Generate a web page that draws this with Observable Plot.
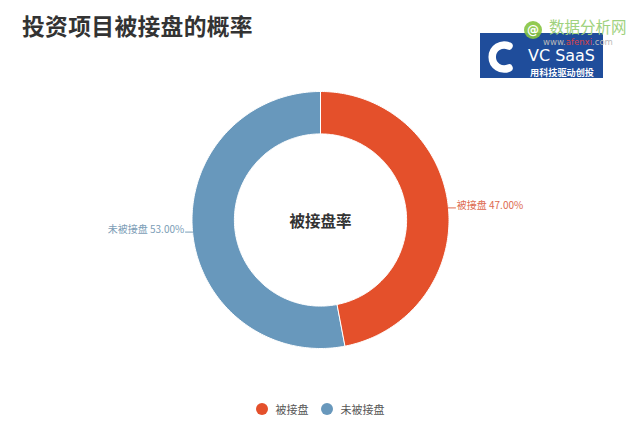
<!DOCTYPE html>
<html>
<head>
<meta charset="utf-8">
<script src="https://cdn.jsdelivr.net/npm/d3@7"></script>
<script src="https://cdn.jsdelivr.net/npm/@observablehq/plot@0.6"></script>
<style>
  html, body { margin: 0; padding: 0; background: #fff; }
  body { font-family: "Noto Sans CJK SC", "Noto Sans", sans-serif; }
  #wrap { position: relative; width: 640px; height: 430px; overflow: hidden; background: #fff; }
  #title { position: absolute; left: 22px; top: 9px; font-size: 22.8px; font-weight: bold; color: #333; letter-spacing: 0.3px; }
  #logo { position: absolute; left: 0; top: 0; }
  #chart { position: absolute; left: 0; top: 0; }
  #legend { position: absolute; top: 401px; left: 0; width: 640px; display: flex; justify-content: center; align-items: center; font-size: 11px; color: #555; padding-left: 0px; }
  .item { display: flex; align-items: center; margin: 0 6px; }
  .sw { width: 12px; height: 12px; border-radius: 50%; margin-right: 8px; }
</style>
</head>
<body>
<div id="wrap">
  <div id="title">投资项目被接盘的概率</div>
  <svg id="logo" width="640" height="90">
    <rect x="480" y="33" width="123" height="45" fill="#1f4d9b"/>
    <path d="M 509 46 A 12 12 0 1 0 509 68" fill="none" stroke="#fff" stroke-width="7.5" stroke-linecap="round"/>
    <text x="528" y="61" fill="#fff" font-family="DejaVu Sans" font-size="15.5" textLength="67" lengthAdjust="spacingAndGlyphs">VC SaaS</text>
    <text x="530" y="75.5" fill="#fff" font-family="Noto Sans CJK SC" font-weight="bold" font-size="9" textLength="64" lengthAdjust="spacingAndGlyphs">用科技驱动创投</text>
    <circle cx="533" cy="30" r="9" fill="#86c440" opacity="0.9"/>
    <text x="533" y="34" fill="#fff" font-family="DejaVu Sans" font-weight="bold" font-size="12" text-anchor="middle">@</text>
    <text x="549" y="33" fill="#9fd27e" font-family="Noto Sans CJK SC" font-size="15.5">数据分析网</text>
    <text x="543" y="45" fill="#b9b9b9" font-family="DejaVu Sans" font-size="8.5">www.<tspan fill="#d8434a">afenxi</tspan>.com</text>
  </svg>
  <div id="chart"></div>
  <div id="legend"></div>
</div>
<script>
// ---- data ----
const categories = ["被接盘", "未被接盘"];
const values = [47.00, 53.00];
const colors = ["#e4502b", "#6898bc"];
const labelColors = ["#dd6a4f", "#7b9db6"];
const centerLabel = "被接盘率";

// ---- build slices ----
const innerR = 0.67;
const pie = d3.pie().sort(null).value(d => d.value)(categories.map((c, i) => ({cat: c, value: values[i]})));
const pts = [];
pie.forEach(s => {
  const n = 180;
  for (let k = 0; k <= n; k++) {
    const a = s.startAngle + (s.endAngle - s.startAngle) * k / n;
    pts.push({cat: s.data.cat, x: Math.sin(a), y: Math.cos(a)});
  }
  for (let k = n; k >= 0; k--) {
    const a = s.startAngle + (s.endAngle - s.startAngle) * k / n;
    pts.push({cat: s.data.cat, x: innerR * Math.sin(a), y: innerR * Math.cos(a)});
  }
});
// labels with leader lines
const leaders = [];
const labels = [];
pie.forEach((s, i) => {
  const a = (s.startAngle + s.endAngle) / 2;
  const x0 = Math.sin(a), y0 = Math.cos(a);
  const dir = x0 >= 0 ? 1 : -1;
  const x1 = x0 + dir * 0.055;
  leaders.push({cat: s.data.cat, x: x0, y: y0}, {cat: s.data.cat, x: x1, y: y0});
  labels.push({cat: s.data.cat, x: x1 + dir * 0.01, y: y0 + 0.02, text: `${s.data.cat} ${s.data.value.toFixed(2)}%`, anchor: dir > 0 ? "start" : "end", color: labelColors[i]});
});

const chart = Plot.plot({
  width: 640,
  height: 430,
  marginLeft: 191.5,
  marginRight: 191.5,
  marginTop: 91,
  marginBottom: 82,
  x: {domain: [-1, 1], axis: null},
  y: {domain: [-1, 1], axis: null},
  color: {domain: categories, range: colors},
  style: {background: "transparent", overflow: "visible", fontFamily: "Noto Sans CJK SC"},
  marks: [
    Plot.line(pts, {x: "x", y: "y", z: "cat", fill: "cat", stroke: "#fff", strokeWidth: 1, curve: "linear-closed"}),
    Plot.line(leaders, {x: "x", y: "y", z: "cat", stroke: (d) => labelColors[categories.indexOf(d.cat)], strokeWidth: 1}),
    Plot.text(labels.filter(d => d.anchor === "start"), {x: "x", y: "y", text: "text", fill: "color", textAnchor: "start", fontSize: 10}),
    Plot.text(labels.filter(d => d.anchor === "end"), {x: "x", y: "y", text: "text", fill: "color", textAnchor: "end", fontSize: 10}),
    Plot.text([centerLabel], {frameAnchor: "middle", text: d => d, fontSize: 15.5, fontWeight: "bold", fill: "#333", dy: 2})
  ]
});
document.getElementById("chart").appendChild(chart);

// legend
const lg = document.getElementById("legend");
categories.forEach((c, i) => {
  const it = document.createElement("div");
  it.className = "item";
  it.innerHTML = `<span class="sw" style="background:${colors[i]}"></span><span>${c}</span>`;
  lg.appendChild(it);
});
</script>
</body>
</html>
